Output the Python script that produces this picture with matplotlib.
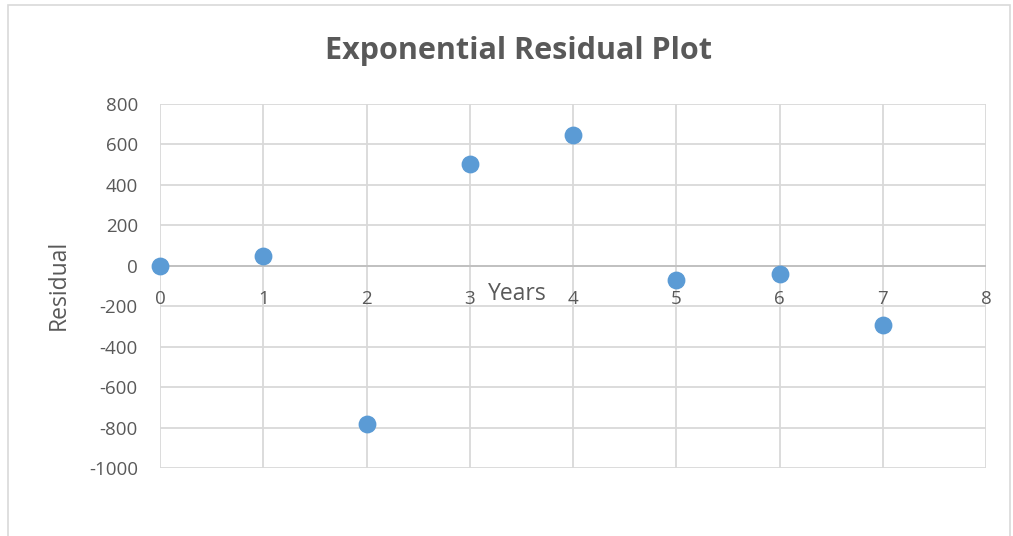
import matplotlib.pyplot as plt
from matplotlib.patches import Rectangle

years = [0, 1, 2, 3, 4, 5, 6, 7]
residuals = [0, 48, -784, 503, 646, -71, -42, -294]
x_ticks = [0, 1, 2, 3, 4, 5, 6, 7, 8]

text_color = '#595959'
grid_color = '#D9D9D9'
point_color = '#5B9BD5'

plt.rcParams['font.family'] = ['Open Sans', 'DejaVu Sans']
plt.rcParams['axes.unicode_minus'] = False

fig = plt.figure(figsize=(10.13, 5.36), dpi=100)
# chart border, like an Excel chart area
fig.patches.append(Rectangle((8 / 1013, -0.05), 1002 / 1013, 1.05 - 5 / 536,
                             transform=fig.transFigure, fill=False,
                             edgecolor=grid_color, linewidth=1.2))

ax = fig.add_axes([160 / 1013, 1 - 468 / 536, 826 / 1013, 364 / 536])
ax.scatter(years, residuals, s=140, color=point_color, zorder=3, clip_on=False)

ax.set_xlim(0, 8)
ax.set_ylim(-1000, 800)
ax.set_xticks(x_ticks)
ax.set_yticks(range(-1000, 801, 200))
ax.grid(True, color=grid_color, linewidth=1.3)
ax.set_axisbelow(True)
for s in ax.spines.values():
    s.set_visible(False)
ax.axhline(0, color='#BFBFBF', linewidth=1.3, zorder=2)

ax.tick_params(axis='both', length=0, labelsize=13.5, colors=text_color)
ax.tick_params(axis='y', pad=16)
# x tick labels sit just under the zero line
ax.set_xticklabels([])
for x in x_ticks:
    ax.text(x, -190, str(x), ha='center', va='baseline', fontsize=13.5, color=text_color)

ax.text(0.432, 0.4615, 'Years', transform=ax.transAxes, ha='center', va='baseline',
        fontsize=16.5, color=text_color)
fig.text(59 / 1013, 1 - 285 / 536, 'Residual', rotation=90, ha='center', va='center',
         fontsize=16.5, color=text_color)
fig.text(518 / 1013, 1 - 59 / 536, 'Exponential Residual Plot', ha='center', va='baseline',
         fontsize=22, fontweight='bold', color=text_color)

fig.savefig('out.png', dpi=100)
